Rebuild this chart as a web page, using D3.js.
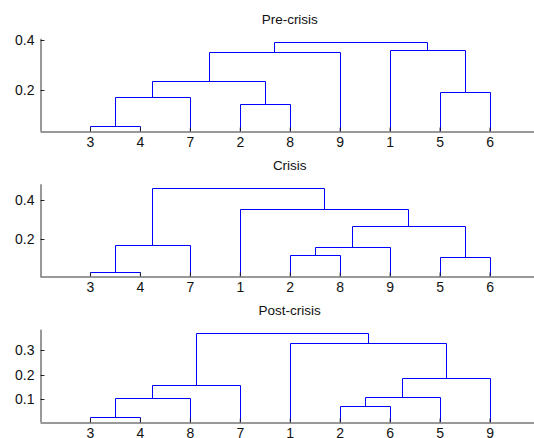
<!DOCTYPE html>
<html>
<head>
<meta charset="utf-8">
<script src="https://cdn.jsdelivr.net/npm/d3@7"></script>
<style>
  html, body { margin: 0; padding: 0; background: #fff; }
  svg { display: block; }
  text { font-family: "Liberation Sans", Arial, sans-serif; }
</style>
</head>
<body>
<div id="chart"></div>
<script>
// ---- Data (MATLAB-style linkage: [left, right, height]; leaves 1..9, merge i creates cluster 9+i)
const titles = ["Pre-crisis", "Crisis", "Post-crisis"];

const preMerges = [
  [3, 4, 0.055],
  [2, 8, 0.143],
  [10, 7, 0.175],
  [5, 6, 0.192],
  [12, 11, 0.239],
  [14, 9, 0.353],
  [1, 13, 0.363],
  [15, 16, 0.391]
];
const crisisMerges = [
  [3, 4, 0.032],
  [5, 6, 0.107],
  [2, 8, 0.119],
  [12, 9, 0.160],
  [10, 7, 0.170],
  [13, 11, 0.266],
  [1, 15, 0.353],
  [14, 16, 0.460]
];
const postMerges = [
  [3, 4, 0.023],
  [2, 6, 0.069],
  [10, 8, 0.102],
  [11, 5, 0.107],
  [12, 7, 0.155],
  [13, 9, 0.184],
  [1, 15, 0.329],
  [14, 16, 0.370]
];

const preTicks = [0.2, 0.4];
const crisisTicks = [0.2, 0.4];
const postTicks = [0.1, 0.2, 0.3];

const panels = [
  { title: titles[0], merges: preMerges, ticks: preTicks },
  { title: titles[1], merges: crisisMerges, ticks: crisisTicks },
  { title: titles[2], merges: postMerges, ticks: postTicks }
];

// ---- Layout
const W = 534, H = 438;
const axLeft = 40, axRight = 539.5;
const axTops = [38.3, 183.8, 329.2];
const axH = 92.4;
const nLeaves = 9;

const svg = d3.select("#chart").append("svg")
  .attr("width", W).attr("height", H);

function buildTree(merges) {
  const nodes = {};
  for (let i = 1; i <= nLeaves; i++) nodes[i] = { id: i, leaf: true };
  merges.forEach((m, i) => {
    nodes[nLeaves + 1 + i] = { id: nLeaves + 1 + i, leaf: false, left: m[0], right: m[1], h: m[2] };
  });
  return { nodes, root: nLeaves + merges.length };
}

panels.forEach((p, k) => {
  const { nodes, root } = buildTree(p.merges);
  const order = [];
  (function walk(id) {
    const n = nodes[id];
    if (n.leaf) { order.push(id); return; }
    walk(n.left); walk(n.right);
  })(root);
  const pos = {};
  order.forEach((id, i) => pos[id] = i + 1);

  const hs = p.merges.map(m => m[2]);
  const minH = d3.min(hs), maxH = d3.max(hs), delta = maxH - minH;
  const ylo = minH - 0.05 * delta, yhi = maxH + 0.05 * delta;

  const top = axTops[k], bottom = top + axH;
  const x = d3.scaleLinear().domain([0, nLeaves + 1]).range([axLeft, axRight]);
  const y = d3.scaleLinear().domain([ylo, yhi]).range([bottom, top]);

  const g = svg.append("g");

  function nx(id) {
    const n = nodes[id];
    if (n.leaf) return pos[id];
    if (n.x === undefined) n.x = (nx(n.left) + nx(n.right)) / 2;
    return n.x;
  }
  function nh(id) {
    const n = nodes[id];
    return n.leaf ? ylo : n.h;
  }

  const linkData = p.merges.map((m, i) => {
    const id = nLeaves + 1 + i;
    return { xl: nx(m[0]), hl: nh(m[0]), xr: nx(m[1]), hr: nh(m[1]), h: m[2], id };
  });
  g.selectAll("path.link").data(linkData).enter().append("path")
    .attr("class", "link")
    .attr("fill", "none")
    .attr("stroke", "#0000ff")
    .attr("stroke-width", 1)
    .attr("d", d => {
      const path = d3.path();
      const yl = nodes[d.id].left <= nLeaves ? Math.round(y(d.hl)) : Math.round(y(d.hl)) + 0.5;
      const yr = nodes[d.id].right <= nLeaves ? Math.round(y(d.hr)) : Math.round(y(d.hr)) + 0.5;
      path.moveTo(Math.round(x(d.xl)) + 0.5, yl);
      path.lineTo(Math.round(x(d.xl)) + 0.5, Math.round(y(d.h)) + 0.5);
      path.lineTo(Math.round(x(d.xr)) + 0.5, Math.round(y(d.h)) + 0.5);
      path.lineTo(Math.round(x(d.xr)) + 0.5, yr);
      return path.toString();
    });

  const xAxis = d3.axisBottom(x)
    .tickValues(d3.range(1, nLeaves + 1))
    .tickFormat(v => order[v - 1])
    .tickSizeInner(-4).tickSizeOuter(0).tickPadding(6);
  const yAxis = d3.axisLeft(y)
    .tickValues(p.ticks)
    .tickFormat(d3.format(".1f"))
    .tickSizeInner(-4).tickSizeOuter(0).tickPadding(6);

  const gx = g.append("g").attr("transform", `translate(0,${Math.round(bottom) + 0.5})`).call(xAxis);
  const gy = g.append("g").attr("transform", `translate(${axLeft + 0.5},0)`).call(yAxis);
  [gx, gy].forEach(a => {
    a.select(".domain").attr("stroke", "#333");
    a.selectAll(".tick line").attr("stroke", "#222");
    a.selectAll(".tick text").attr("fill", "#111").style("font-size", "14px")
      .style("font-family", '"Liberation Sans", Arial, sans-serif');
  });
  gy.selectAll(".tick").attr("transform", d => `translate(0,${Math.round(y(d)) + 0.5})`);

  g.append("text")
    .attr("x", (axLeft + axRight) / 2)
    .attr("y", top - 14)
    .attr("text-anchor", "middle")
    .attr("fill", "#111")
    .style("font-size", "13.5px")
    .text(p.title);
});
</script>
</body>
</html>
